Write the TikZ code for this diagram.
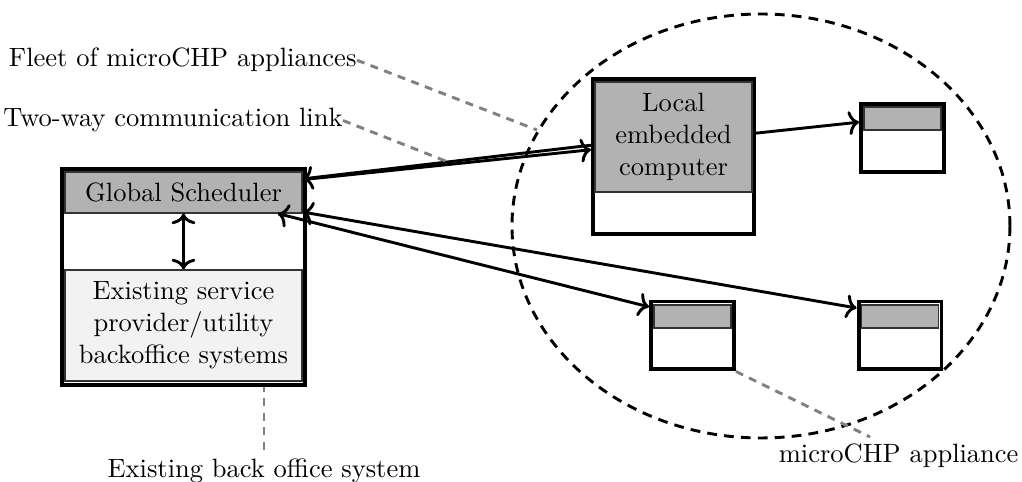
\documentclass[tikz,border=0pt]{standalone}
\usetikzlibrary{arrows.meta}
\begin{document}
\begin{tikzpicture}[
    frame/.style={draw, line width=1.5pt, fill=white, inner sep=0pt},
    head/.style={draw=black!80, line width=0.5pt, fill=black!30, inner sep=0pt, align=center},
    base/.style={draw=black!80, line width=0.5pt, fill=black!5, inner sep=0pt, align=center},
    link/.style={line width=1.1pt, >={To[length=4pt,width=9pt]}},
    callout/.style={draw=gray, line width=1.1pt, dash pattern=on 3pt off 2.5pt},
    label/.style={inner sep=0pt}
]
    \useasboundingbox (0,0) rectangle (13.562,6.396);

    % Fleet
    \draw[line width=1.1pt, dash pattern=on 3.7pt off 2.7pt] (10.098,3.397) ellipse (3.304cm and 2.813cm);

    % Back office
    \node[frame, minimum width=3.225cm, minimum height=2.866cm] (BO) at (2.435,2.720) {};
    \node[head, minimum width=3.145cm, minimum height=0.544cm] (GS) at (2.435,3.842) {Global Scheduler};
    \node[base, minimum width=3.145cm, minimum height=1.473cm] (EX) at (2.435,2.077)
        {Existing service\\provider/utility\\backoffice systems};

    % Local computer
    \node[frame, minimum width=2.137cm, minimum height=2.057cm] (LC) at (8.937,4.319) {};
    \node[head, minimum width=2.083cm, minimum height=1.460cm] (LCin) at (8.937,4.578)
        {Local\\embedded\\computer};

    % Appliances
    \node[frame, minimum width=1.101cm, minimum height=0.902cm] (A1) at (11.976,4.565) {};
    \node[head, minimum width=1.022cm, minimum height=0.305cm] (A1in) at (11.976,4.824) {};
    \node[frame, minimum width=1.101cm, minimum height=0.902cm] (A2) at (9.189,1.944) {};
    \node[head, minimum width=1.022cm, minimum height=0.305cm] (A2in) at (9.189,2.196) {};
    \node[frame, minimum width=1.101cm, minimum height=0.902cm] (A3) at (11.943,1.944) {};
    \node[head, minimum width=1.022cm, minimum height=0.305cm] (A3in) at (11.943,2.196) {};

    % Links
    \draw[link, <->] (GS.south) -- (EX.north);
    \draw[link, <-] ([yshift=0.18cm]GS.east) -- ([yshift=0.15cm]LC.west);
    \draw[link, ->] ([yshift=0.17cm]GS.east) -- ([yshift=0.09cm]LC.west);
    \draw[link, ->] ([yshift=0.31cm]LC.east) -- ([yshift=0.21cm]A1.west);
    \draw[link, <->] ([yshift=-0.26cm]GS.east) -- ([yshift=0.365cm]A3.west);
    \draw[link, <->] ([xshift=-0.33cm]GS.south east) -- ([yshift=0.38cm]A2.west);

    % Labels
    \node[label, anchor=base east] (fleet) at (4.737,5.507) {Fleet of microCHP appliances};
    \node[label, anchor=base east] (twoway) at (4.552,4.711) {Two-way communication link};
    \node[anchor=base] (backoffice) at (3.503,0.053) {Existing back office system};
    \node[label, anchor=base east] (appliance) at (13.522,0.265) {microCHP appliance};
    \coordinate (fleetend) at (7.126,4.671);
    \coordinate (twowayend) at (5.945,4.246);
    \coordinate (applianceend) at (11.545,0.597);

    \draw[callout] (fleet.east) -- (fleetend);
    \draw[callout] (twoway.east) -- (twowayend);
    \draw[callout] (backoffice.north) -- (backoffice.north |- BO.south);
    \draw[callout] (A2.south east) -- (applianceend);
\end{tikzpicture}
\end{document}
